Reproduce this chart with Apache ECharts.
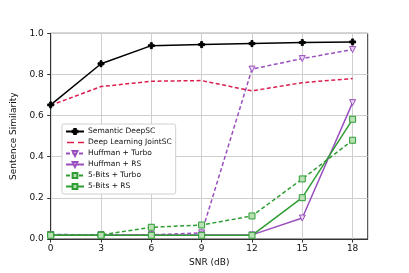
<!DOCTYPE html>
<html>
<head>
<meta charset="utf-8">
<script src="https://cdn.jsdelivr.net/npm/echarts@6/dist/echarts.min.js"></script>
<style>
html,body{margin:0;padding:0;background:#fff;}
#chart{width:409px;height:273px;}
</style>
</head>
<body>
<div id="chart"></div>
<script>
const snr = [0, 3, 6, 9, 12, 15, 18];
const xTicks = [0, 3, 6, 9, 12, 15, 18];
const yTicks = [0, 0.2, 0.4, 0.6, 0.8, 1.0];
const semanticDeepSC = [0.652, 0.852, 0.940, 0.945, 0.950, 0.955, 0.958];
const deepLearningJointSC = [0.650, 0.741, 0.767, 0.770, 0.720, 0.760, 0.780];
const huffmanTurbo = [0.022, 0.020, 0.020, 0.030, 0.826, 0.877, 0.921];
const huffmanRS = [0.020, 0.020, 0.020, 0.020, 0.020, 0.102, 0.663];
const bitsTurbo = [0.020, 0.020, 0.057, 0.068, 0.112, 0.292, 0.480];
const bitsRS = [0.018, 0.018, 0.018, 0.018, 0.018, 0.201, 0.582];

const FONT = 'DejaVu Sans';
const plusPath = 'path://M-1,-3 L1,-3 L1,-1 L3,-1 L3,1 L1,1 L1,3 L-1,3 L-1,1 L-3,1 L-3,-1 L-1,-1 Z';
const triDown = 'path://M-5,-4 L5,-4 L0,5 Z';
const dashIcon = 'path://M0,0 L0.01,0 L0,0.01 Z M18,6 L17.99,6 L18,5.99 Z M1,2.3 L8,2.3 L8,3.7 L1,3.7 Z M12,2.3 L18,2.3 L18,3.7 L12,3.7 Z';

function pairs(ys){ return snr.map((x,i)=>[x, ys[i]]); }

function mk(name, ys, color, dashed, symbol, fill, z){
  return {
    name: name, type: 'line', data: pairs(ys), z: z,
    symbol: symbol, symbolSize: symbol === 'none' ? 0 : 6,
    showSymbol: symbol !== 'none',
    lineStyle: {color: color, width: 1.5, type: dashed ? [4, 2.5] : 'solid'},
    itemStyle: {color: fill, borderColor: color, borderWidth: 1},
    emphasis: {disabled: true},
    animation: false
  };
}

const chart = echarts.init(document.getElementById('chart'), null, {renderer: 'canvas'});
chart.setOption({
  animation: false,
  backgroundColor: '#fff',
  grid: {left: 50.7, right: 41.3, top: 33.3, bottom: 34, show: true, borderColor: '#333', borderWidth: 1, backgroundColor: 'transparent'},
  xAxis: {
    type: 'value', min: 0, max: 18.9, interval: 3,
    name: 'SNR (dB)', nameLocation: 'middle', nameGap: 19,
    nameTextStyle: {fontFamily: FONT, fontSize: 9, color: '#111'},
    axisLine: {show: true, lineStyle: {color: '#333', width: 1}},
    axisTick: {show: true, length: 3.5, lineStyle: {color: '#333'}, customValues: xTicks},
    axisLabel: {fontFamily: FONT, fontSize: 9, color: '#111', margin: 5.5, customValues: xTicks,
      formatter: v => String(v)},
    splitLine: {show: true, lineStyle: {color: '#cfcfcf', width: 1}}
  },
  yAxis: {
    type: 'value', min: 0, max: 1, interval: 0.2,
    name: 'Sentence Similarity', nameLocation: 'middle', nameGap: 26,
    nameTextStyle: {fontFamily: FONT, fontSize: 9, color: '#111'},
    axisLine: {show: true, lineStyle: {color: '#333', width: 1}},
    axisTick: {show: true, length: 3.5, lineStyle: {color: '#333'}, customValues: yTicks},
    axisLabel: {fontFamily: FONT, fontSize: 9, color: '#111', margin: 7, customValues: yTicks,
      formatter: v => v.toFixed(1)},
    splitLine: {show: true, lineStyle: {color: '#cfcfcf', width: 1}}
  },
  legend: {
    orient: 'vertical', left: 62, top: 124,
    backgroundColor: '#fff', borderColor: '#d0d0d0', borderWidth: 1, borderRadius: 2,
    padding: [3, 4, 3, 3],
    itemWidth: 18, itemHeight: 6, itemGap: 2,
    textStyle: {fontFamily: FONT, fontSize: 7.5, color: '#111', lineHeight: 9, padding: [0,0,0,-1]},
    data: [
      'Semantic DeepSC',
      {name: 'Deep Learning JointSC', icon: dashIcon, itemStyle: {color: '#dc1e4e', borderWidth: 0, borderColor: 'transparent'}},
      'Huffman + Turbo', 'Huffman + RS', '5-Bits + Turbo', '5-Bits + RS'
    ]
  },
  series: [
    mk('Semantic DeepSC', semanticDeepSC, '#000000', false, plusPath, '#000000', 8),
    mk('Deep Learning JointSC', deepLearningJointSC, '#dc1e4e', true, 'none', '#dc1e4e', 7),
    mk('Huffman + Turbo', huffmanTurbo, '#9a4fbf', true, triDown, '#e6d3f0', 6),
    mk('Huffman + RS', huffmanRS, '#9a4fbf', false, triDown, '#e6d3f0', 6),
    mk('5-Bits + Turbo', bitsTurbo, '#2e9e32', true, 'rect', '#b9e0b5', 6),
    mk('5-Bits + RS', bitsRS, '#2e9e32', false, 'rect', '#b9e0b5', 6)
  ]
});
</script>
</body>
</html>
